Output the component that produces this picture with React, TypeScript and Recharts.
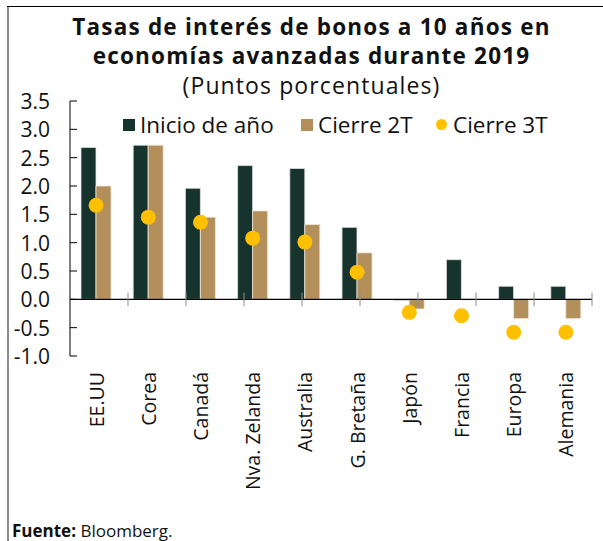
import React from 'react';
import { ComposedChart, Bar, Line, XAxis, YAxis, ReferenceLine, Legend } from 'recharts';

const paises = ['EE.UU', 'Corea', 'Canadá', 'Nva. Zelanda', 'Australia', 'G. Bretaña', 'Japón', 'Francia', 'Europa', 'Alemania'];
const inicioAnio = [2.68, 2.72, 1.96, 2.36, 2.31, 1.27, -0.02, 0.7, 0.23, 0.23];
const cierre2T = [2.0, 2.72, 1.45, 1.56, 1.32, 0.82, -0.17, -0.01, -0.34, -0.34];
const cierre3T = [1.66, 1.45, 1.36, 1.08, 1.01, 0.48, -0.23, -0.29, -0.58, -0.58];
const yTicks = [-1, -0.5, 0, 0.5, 1, 1.5, 2, 2.5, 3, 3.5];
const limites = [1, 2, 3, 4, 5, 6, 7, 8, 9, 10];

const data = paises.map((pais, i) => ({
  pais,
  inicio: inicioAnio[i],
  c2t: cierre2T[i],
  c3t: cierre3T[i],
}));

const FONT = '"Open Sans", sans-serif';
const VERDE = '#17332e';
const CAFE = '#b38f5c';
const AMARILLO = '#ffc000';

const YTick = (props: any) => {
  const { x, y, payload } = props;
  return (
    <g>
      <line x1={x} x2={x + 7} y1={y} y2={y} stroke="#000" strokeWidth={1} />
      <text x={x - 20} y={y} textAnchor="end" dominantBaseline="central" fontSize={21} fill="#111" fontFamily={FONT}>
        {payload.value.toFixed(1)}
      </text>
    </g>
  );
};

const XTick = (props: any) => {
  const { x, y, payload } = props;
  const ty = y + 16;
  return (
    <text
      x={x}
      y={ty}
      transform={`rotate(-90, ${x}, ${ty})`}
      textAnchor="end"
      dominantBaseline="central"
      fontSize={19.5}
      fill="#111"
      fontFamily={FONT}
    >
      {payload.value}
    </text>
  );
};

const LegendContent = () => (
  <div style={{ position: 'relative', height: 30, fontFamily: FONT, fontSize: 22.5, color: '#111' }}>
    <div style={{ position: 'absolute', left: 123, top: 9, width: 12, height: 12, background: VERDE }} />
    <span style={{ position: 'absolute', left: 140, top: 0, lineHeight: '30px' }}>Inicio de año</span>
    <div style={{ position: 'absolute', left: 301, top: 9, width: 12, height: 12, background: CAFE }} />
    <span style={{ position: 'absolute', left: 318, top: 0, lineHeight: '30px' }}>Cierre 2T</span>
    <div style={{ position: 'absolute', left: 436, top: 9, width: 11, height: 11, borderRadius: '50%', background: AMARILLO }} />
    <span style={{ position: 'absolute', left: 453, top: 0, lineHeight: '30px' }}>Cierre 3T</span>
  </div>
);

const App = () => {
  return (
    <div style={{ position: 'absolute', left: 0, top: 0, width: 603, height: 541, background: '#fff', overflow: 'hidden' }}>
      {/* marco */}
      <div style={{ position: 'absolute', left: 7, top: 6, width: 2, height: 535, background: '#8c8c8c' }} />
      <div style={{ position: 'absolute', left: 7, top: 6, width: 596, height: 1, background: '#000' }} />

      <div style={{ position: 'absolute', left: 20, top: 12, width: 583, textAlign: 'center', fontFamily: FONT, color: '#111' }}>
        <div style={{ fontSize: 22.5, fontWeight: 700, lineHeight: '29px', letterSpacing: 1.2 }}>Tasas de interés de bonos a 10 años en</div>
        <div style={{ fontSize: 22.5, fontWeight: 700, lineHeight: '29px', letterSpacing: 1.2 }}>economías avanzadas durante 2019</div>
        <div style={{ fontSize: 23, lineHeight: '31px', letterSpacing: 1.1 }}>(Puntos porcentuales)</div>
      </div>

      <div style={{ position: 'absolute', left: 0, top: 0 }}>
        <ComposedChart
          width={603}
          height={541}
          data={data}
          margin={{ top: 101, right: 11, bottom: 155, left: 10 }}
          barGap={0}
        >
          <XAxis dataKey="pais" axisLine={false} tickLine={false} tickSize={0} tickMargin={0} height={30} interval={0} tick={<XTick />} />
          <XAxis xAxisId="b" type="number" domain={[0, 10]} hide />
          <YAxis
            width={60}
            domain={[-1, 3.5]}
            ticks={yTicks}
            interval={0}
            axisLine={{ stroke: '#000', strokeWidth: 1 }}
            tickLine={false}
            tickSize={0}
            tickMargin={0}
            tick={<YTick />}
          />
          <Legend verticalAlign="middle" align="center" layout="horizontal" content={<LegendContent />} wrapperStyle={{ top: 110, left: 0, width: 603 }} />
          <Bar dataKey="inicio" name="Inicio de año" fill={VERDE} stroke="#e4e4e4" strokeWidth={0.8} barSize={15} isAnimationActive={false} />
          <Bar dataKey="c2t" name="Cierre 2T" fill={CAFE} stroke="#eee6d8" strokeWidth={0.8} barSize={15} isAnimationActive={false} />
          <ReferenceLine y={0} stroke="#000" strokeWidth={1.3} />
          {limites.map((k) => (
            <ReferenceLine
              key={k}
              xAxisId="b"
              segment={[{ x: k, y: 0.12 }, { x: k, y: -0.12 }]}
              stroke="#8c8c8c"
              strokeWidth={1}
            />
          ))}
          <Line
            dataKey="c3t"
            name="Cierre 3T"
            stroke="none"
            dot={{ r: 7.5, fill: AMARILLO, stroke: 'none' }}
            activeDot={false}
            isAnimationActive={false}
          />
        </ComposedChart>
      </div>

      <div style={{ position: 'absolute', left: 12, top: 519, fontFamily: FONT, fontSize: 17, color: '#111' }}>
        <b>Fuente:</b> Bloomberg.
      </div>
    </div>
  );
};

export default App;
